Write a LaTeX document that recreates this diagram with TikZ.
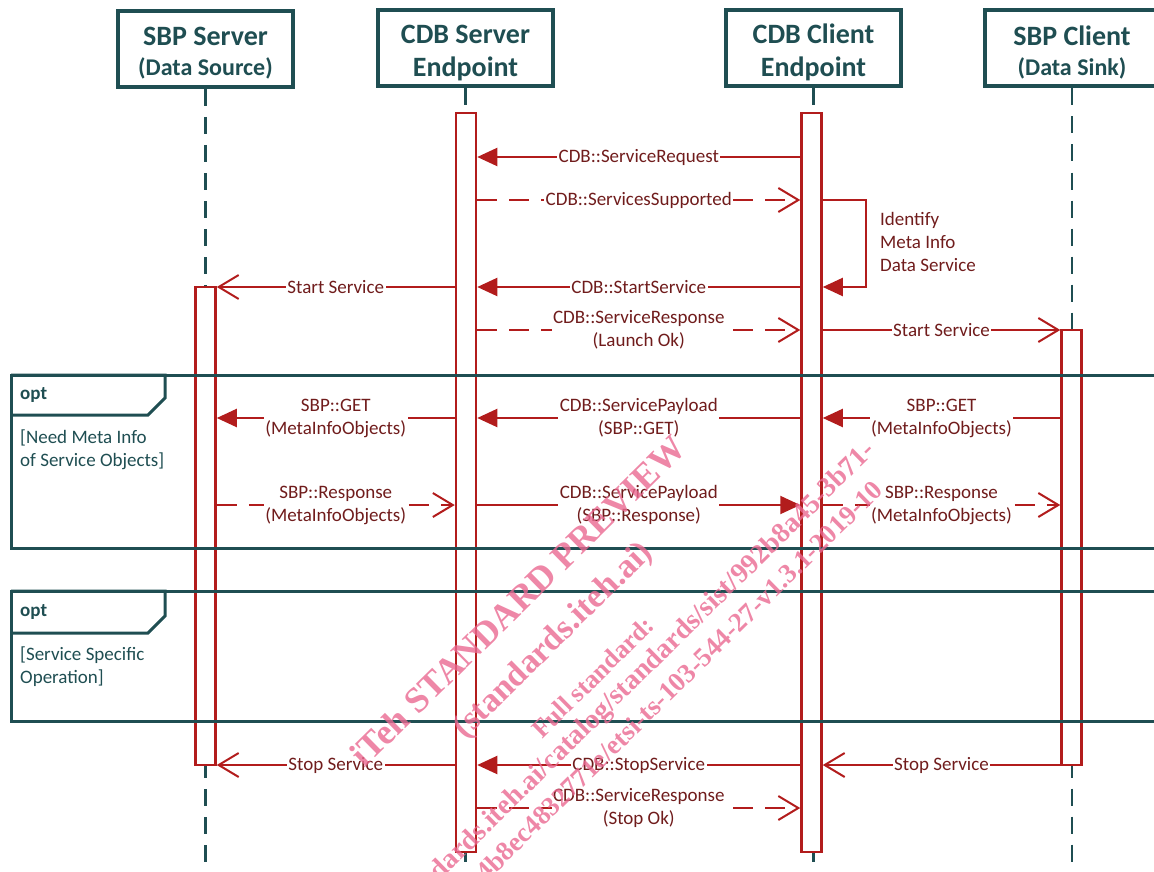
\documentclass[tikz,border=0pt]{standalone}
\usepackage{fontspec}
\setmainfont{Carlito}
\newfontfamily\wmfont{Liberation Serif}
\usetikzlibrary{arrows.meta}
\definecolor{seqteal}{RGB}{31,78,82}
\definecolor{seqred}{RGB}{178,28,28}
\definecolor{seqtext}{RGB}{112,28,28}
\definecolor{wmpink}{RGB}{234,105,145}
\newcommand\hdbig{\bfseries\fontsize{28}{34}\selectfont}
\newcommand\hdsmall{\bfseries\fontsize{24}{28}\selectfont}
\begin{document}
\begin{tikzpicture}[x=1pt,y=-1pt,
  head/.style={draw=seqteal, line width=4pt, fill=white, minimum width=175pt, minimum height=76pt,
    align=center, text=seqteal, inner sep=0pt, font=\hdbig},
  bar/.style={draw=seqred, line width=2.5pt, fill=white, minimum width=20pt, inner sep=0pt},
  life/.style={draw=seqteal, line width=2.5pt, dash pattern=on 17pt off 11pt},
  msg/.style={draw=seqred, line width=2pt},
  sync/.style={msg, -{Triangle[length=20pt,width=18pt]}},
  async/.style={msg, -{Straight Barb[length=20pt,width=24pt]}},
  reply/.style={msg, dash pattern=on 20pt off 12pt, -{Straight Barb[length=20pt,width=24pt]}},
  lbl/.style={fill=white, text=seqtext, font=\fontsize{19}{23}\selectfont, inner sep=1.5pt, align=center},
  frame/.style={draw=seqteal, line width=3pt},
  optlbl/.style={text=seqteal, font=\bfseries\fontsize{19}{23}\selectfont, anchor=west, inner sep=0pt},
  guard/.style={text=seqteal, font=\fontsize{19}{23}\selectfont, anchor=west, align=left, inner sep=0pt},
  wm/.style={text=wmpink, opacity=0.8, rotate=44.5, inner sep=0pt}
]
\useasboundingbox (0,0) rectangle (1154,872);
\clip (0,0) rectangle (1154,872);

% rows
\coordinate (r1) at (0,157);
\coordinate (r2) at (0,200);
\coordinate (r3) at (0,287);
\coordinate (r4) at (0,330);
\coordinate (r5) at (0,418);
\coordinate (r6) at (0,505);
\coordinate (r7) at (0,765);
\coordinate (r8) at (0,808);
\coordinate (bottom) at (0,880);

% headers
\node[head] (h1) at (205.5,49) {\rule{0pt}{27pt}SBP Server\\[-4pt]{\hdsmall (Data Source)}};
\node[head] (h2) at (465.5,48.5) {\rule{0pt}{27pt}CDB Server\\[-1pt]Endpoint};
\node[head] (h3) at (813.5,48.5) {\rule{0pt}{27pt}CDB Client\\[-1pt]Endpoint};
\node[head] (h4) at (1072,48.5) {\rule{0pt}{27pt}SBP Client\\[-4pt]{\hdsmall (Data Sink)}};

% lifelines
\draw[life] (h1.south) -- (h1.south |- bottom);
\draw[life] (h2.south) -- (h2.south |- bottom);
\draw[life] (h3.south) -- (h3.south |- bottom);
\draw[life] (h4.south) -- (h4.south |- bottom);

% activation bars
\node[bar, minimum height=478pt] (b1) at (205.5,526) {};
\node[bar, minimum height=739pt] (b2) at (466,482.5) {};
\node[bar, minimum height=739pt] (b3) at (811.5,482.5) {};
\node[bar, minimum height=435pt] (b4) at (1071.5,547.5) {};

% opt frames
\draw[frame] (11,375) rectangle (1175,548);
\draw[frame] (11,375) -- (165,375) -- (165,398) -- (148,415) -- (11,415);
\node[optlbl] (o1) at (20,395) {opt};
\node[guard] (g1) at (20,449.5) {[Need Meta Info\\of Service Objects]};

\draw[frame] (11,591) rectangle (1175,721);
\draw[frame] (11,591) -- (165,591) -- (165,616) -- (148,633) -- (11,633);
\node[optlbl] (o2) at (20,612) {opt};
\node[guard] (g2) at (20,666.5) {[Service Specific\\Operation]};

% messages
\draw[sync] (b3.west |- r1) -- node[lbl]{CDB::ServiceRequest} (b2.east |- r1);
\draw[reply] (b2.east |- r2) -- node[lbl]{CDB::ServicesSupported} (b3.west |- r2);
\draw[sync] (b3.east |- r2) -- ++(43,0) |- (b3.east |- r3);
\node[text=seqtext, font=\fontsize{19}{23}\selectfont, anchor=west, align=left, inner sep=0pt] (note) at (880,242) {Identify\\Meta Info\\Data Service};
\draw[sync] (b3.west |- r3) -- node[lbl]{CDB::StartService} (b2.east |- r3);
\draw[async] (b2.west |- r3) -- node[lbl]{Start Service} (b1.east |- r3);
\draw[reply] (b2.east |- r4) -- node[lbl]{CDB::ServiceResponse\\(Launch Ok)} (b3.west |- r4);
\draw[async] (b3.east |- r4) -- node[lbl]{Start Service} (b4.west |- r4);

\draw[sync] (b2.west |- r5) -- node[lbl]{SBP::GET\\(MetaInfoObjects)} (b1.east |- r5);
\draw[sync] (b3.west |- r5) -- node[lbl]{CDB::ServicePayload\\(SBP::GET)} (b2.east |- r5);
\draw[sync] (b4.west |- r5) -- node[lbl]{SBP::GET\\(MetaInfoObjects)} (b3.east |- r5);
\draw[reply] (b1.east |- r6) -- node[lbl]{SBP::Response\\(MetaInfoObjects)} (b2.west |- r6);
\draw[sync] (b2.east |- r6) -- node[lbl]{CDB::ServicePayload\\(SBP::Response)} (b3.west |- r6);
\draw[reply] (b3.east |- r6) -- node[lbl]{SBP::Response\\(MetaInfoObjects)} (b4.west |- r6);

\draw[async] (b2.west |- r7) -- node[lbl]{Stop Service} (b1.east |- r7);
\draw[sync] (b3.west |- r7) -- node[lbl]{CDB::StopService} (b2.east |- r7);
\draw[async] (b4.west |- r7) -- node[lbl]{Stop Service} (b3.east |- r7);
\draw[reply] (b2.east |- r8) -- node[lbl]{CDB::ServiceResponse\\(Stop Ok)} (b3.west |- r8);

% watermark
\node[wm, font=\wmfont\bfseries\fontsize{36}{40}\selectfont] (w1) at (518,601) {iTeh STANDARD PREVIEW};
\node[wm, font=\wmfont\bfseries\fontsize{34}{38}\selectfont] (w2) at (554,641) {(standards.iteh.ai)};
\node[wm, font=\wmfont\bfseries\fontsize{26}{30}\selectfont] (w3) at (593,677) {Full standard:};
\node[wm, font=\wmfont\bfseries\fontsize{28}{32}\selectfont, anchor=east] (w4) at (872,447) {https://standards.iteh.ai/catalog/standards/sist/992b8a45-3b71-};
\node[wm, font=\wmfont\bfseries\fontsize{27}{31}\selectfont, anchor=east] (w5) at (878,485) {4b8ec4832771e/etsi-ts-103-544-27-v1.3.1-2019-10};
\end{tikzpicture}
\end{document}
